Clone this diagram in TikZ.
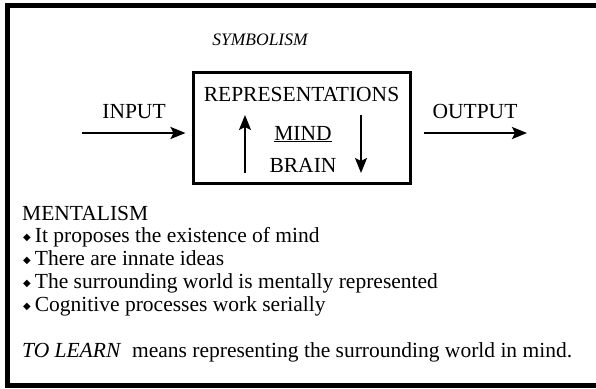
\documentclass[tikz,border=0pt]{standalone}
\usepackage{fontspec}
\setmainfont{Liberation Serif}
\newfontfamily\symfont{DejaVu Sans}
\usetikzlibrary{arrows.meta, positioning, calc}

\newcommand{\bul}{{\symfont\fontsize{10}{10}\selectfont\raisebox{2pt}{◆}}\hspace{4pt}}

\begin{document}
\begin{tikzpicture}[x=1pt, y=-1pt,
  txt/.style={font=\fontsize{21.5}{24}\selectfont, inner sep=0pt},
  flow/.style={line width=2.4pt, -{Stealth[length=15pt, width=12pt, inset=3pt]}},
  updown/.style={line width=2.2pt, -{Stealth[length=15pt, width=12pt, inset=3pt]}}
]
\clip (0,0) rectangle (596,388);
\draw[line width=5pt] (7.5,5.5) rectangle (640,385.5);
\node[font=\fontsize{17.5}{20}\selectfont\itshape, inner sep=0pt, anchor=base] (symb) at (260,45) {SYMBOLISM};
\node[draw, line width=3pt, minimum width=217pt, minimum height=111pt, inner sep=0pt] (mindbox) at (301.5,127.5) {};
\node[txt, anchor=base] (repr) at (301.5,101) {REPRESENTATIONS};
\node[txt, anchor=base] (mind) at (303,140) {\underline{MIND}};
\node[txt, anchor=base] (brain) at (303,172) {BRAIN};
\coordinate (upfoot) at (245,173);
\coordinate (uptip) at (245,115);
\coordinate (downfoot) at (361,115);
\coordinate (downtip) at (361,173);
\draw[updown] (upfoot) -- (uptip);
\draw[updown] (downfoot) -- (downtip);
% input / output
\node[txt, anchor=base] (input) at (134,118) {INPUT};
\node[txt, anchor=base] (output) at (475,118) {OUTPUT};
\coordinate (infoot) at (82,133);
\coordinate (outtip) at (527,133);
\draw[flow, shorten >=6pt] (infoot) -- (mindbox.west |- infoot);
\draw[flow, shorten <=12pt] (mindbox.east |- outtip) -- (outtip);
% mentalism
\node[txt, anchor=base west] (ment) at (22,220) {MENTALISM};
\foreach \txtline [count=\i] in {It proposes the existence of mind, There are innate ideas, The surrounding world is mentally represented, Cognitive processes work serially}
  \node[txt, anchor=base west] (item\i) at (23,{220+\i*22.8}) {\bul\txtline};
\node[txt, anchor=base west] (learn) at (22,357) {\textit{TO LEARN}\ \ means representing the surrounding world in mind.};
\end{tikzpicture}
\end{document}
